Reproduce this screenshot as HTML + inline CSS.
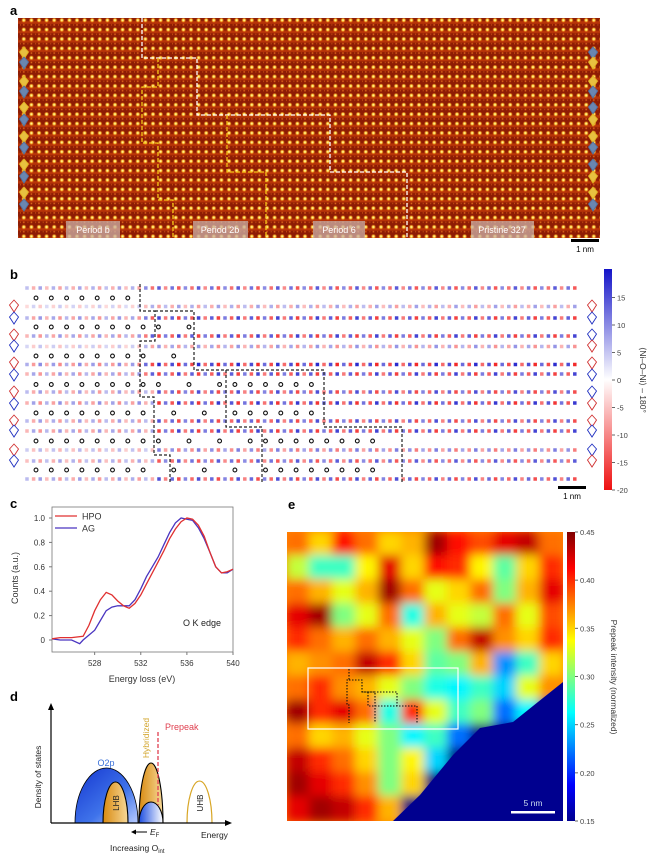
<!DOCTYPE html>
<html><head><meta charset="utf-8"><style>
html,body{margin:0;padding:0;background:#fff;}
svg{display:block;font-family:"Liberation Sans",sans-serif;}
</style></head><body>
<svg id="fig" width="664" height="858" viewBox="0 0 664 858" xmlns="http://www.w3.org/2000/svg">
<defs>
  <radialGradient id="bigdot"><stop offset="0" stop-color="#fffbd0"/><stop offset="0.45" stop-color="#ffd23a"/><stop offset="1" stop-color="#ff7a10" stop-opacity="0"/></radialGradient>
  <radialGradient id="smalldot"><stop offset="0" stop-color="#ff9a30"/><stop offset="1" stop-color="#e04a08" stop-opacity="0"/></radialGradient>
  <pattern id="lattice" x="20" y="18" width="7.6" height="9.4" patternUnits="userSpaceOnUse">
    <rect width="7.6" height="9.4" fill="#8e1c04"/>
    <rect y="3.2" width="7.6" height="2.6" fill="#b83408"/>
    <circle cx="3.8" cy="2.2" r="2.6" fill="url(#bigdot)"/>
    <circle cx="3.8" cy="6.9" r="1.4" fill="url(#smalldot)"/>
    <circle cx="0" cy="6.9" r="1.2" fill="url(#smalldot)"/>
  </pattern>
  <linearGradient id="cbB" x1="0" y1="0" x2="0" y2="1">
    <stop offset="0" stop-color="#1414c8"/><stop offset="0.5" stop-color="#ffffff"/><stop offset="1" stop-color="#ee1010"/>
  </linearGradient>
  <linearGradient id="cbE" x1="0" y1="1" x2="0" y2="0">
    <stop offset="0" stop-color="#00008f"/><stop offset="0.125" stop-color="#0000ff"/><stop offset="0.375" stop-color="#00ffff"/><stop offset="0.625" stop-color="#ffff00"/><stop offset="0.875" stop-color="#ff0000"/><stop offset="1" stop-color="#800000"/>
  </linearGradient>
  <linearGradient id="blueG" x1="0" y1="0" x2="1" y2="1">
    <stop offset="0" stop-color="#1436d0"/><stop offset="0.6" stop-color="#3f73ea"/><stop offset="1" stop-color="#b8ccff"/>
  </linearGradient>
  <linearGradient id="blueG2" x1="0" y1="0" x2="1" y2="0">
    <stop offset="0" stop-color="#1d4ee0"/><stop offset="1" stop-color="#ffffff"/>
  </linearGradient>
  <linearGradient id="orgG" x1="0" y1="0" x2="1" y2="0">
    <stop offset="0" stop-color="#d98a10"/><stop offset="1" stop-color="#f6d898"/>
  </linearGradient>
  <filter id="blurE" x="0" y="0" width="1" height="1"><feGaussianBlur stdDeviation="5"/></filter>
  <clipPath id="clipE"><rect x="287" y="532" width="276" height="289"/></clipPath>
</defs>

<!-- Panel a -->
<text x="10" y="15" font-size="13" font-weight="bold">a</text>
<rect x="18" y="18" width="582" height="220" fill="url(#lattice)"/>
<polyline points="142,18 142,58 197,58 197,115 330,115 330,172 407,172 407,238" fill="none" stroke="#fff" stroke-width="1.3" stroke-dasharray="4,2"/>
<polyline points="158,58 158,87 142,87 142,143 158,143 158,200 173,200 173,238" fill="none" stroke="#f5c518" stroke-width="1.3" stroke-dasharray="4,2"/>
<polyline points="227,115 227,172 266,172 266,238" fill="none" stroke="#f5c518" stroke-width="1.3" stroke-dasharray="4,2"/>
<g font-size="9" fill="#fff">
  <rect x="66" y="221" width="54" height="17" fill="#c9b0a8" opacity="0.75"/>
  <text x="93" y="233" text-anchor="middle">Period b</text>
  <rect x="193" y="221" width="55" height="17" fill="#c9b0a8" opacity="0.75"/>
  <text x="220" y="233" text-anchor="middle">Period 2b</text>
  <rect x="313" y="221" width="52" height="17" fill="#c9b0a8" opacity="0.75"/>
  <text x="339" y="233" text-anchor="middle">Period 6</text>
  <rect x="471" y="221" width="63" height="17" fill="#c9b0a8" opacity="0.75"/>
  <text x="502" y="233" text-anchor="middle">Pristine 327</text>
</g>
<g id="aDiamonds"></g>
<rect x="571" y="239" width="28" height="3" fill="#000"/>
<text x="585" y="252" font-size="8" text-anchor="middle">1 nm</text>

<!-- Panel b -->
<text x="10" y="279" font-size="13" font-weight="bold">b</text>
<g id="bSquares"></g>
<g id="bCircles"></g>
<g id="bDiamonds"></g>
<g fill="none" stroke="#222" stroke-width="1.2" stroke-dasharray="3,2">
<polyline points="140,284 140,311 155,311 155,341 140,341 140,397 154,397 154,455 170,455 170,483"/>
<polyline points="155,311 194,311 194,370 226,370 226,427 262,427 262,483"/>
<polyline points="226,370 324,370 324,427 402,427 402,483"/>
</g>
<rect x="558" y="486" width="28" height="3" fill="#000"/>
<text x="572" y="499" font-size="8" text-anchor="middle">1 nm</text>
<rect x="604" y="269" width="8" height="221" fill="url(#cbB)"/>
<g id="cbBTicks" font-size="7.5" fill="#444"></g>
<text transform="translate(640,380) rotate(90)" font-size="8.5" fill="#333" text-anchor="middle">⟨Ni–O–Ni⟩ – 180°</text>

<!-- Panel c -->
<text x="10" y="508" font-size="13" font-weight="bold">c</text>
<rect x="52" y="507" width="181" height="145" fill="none" stroke="#777" stroke-width="0.8"/>
<g id="cAxes" font-size="8" fill="#333"></g>
<g id="cLines"></g>
<line x1="55" y1="516" x2="77" y2="516" stroke="#e03030" stroke-width="1.3"/>
<text x="82" y="519.5" font-size="9" fill="#333">HPO</text>
<line x1="55" y1="528" x2="77" y2="528" stroke="#4a35c0" stroke-width="1.3"/>
<text x="82" y="531.5" font-size="9" fill="#333">AG</text>
<text x="183" y="626" font-size="9" fill="#222">O K edge</text>
<text x="142" y="682" font-size="9" fill="#333" text-anchor="middle">Energy loss (eV)</text>
<text transform="translate(18,578) rotate(-90)" font-size="9" fill="#333" text-anchor="middle">Counts (a.u.)</text>

<!-- Panel d -->
<text x="10" y="701" font-size="13" font-weight="bold">d</text>
<path d="M75,823 A31.5,55 0 0 1 138,823 Z" fill="url(#blueG)" stroke="#000" stroke-width="0.8"/>
<path d="M103,823 A12.5,41 0 0 1 128,823 Z" fill="url(#orgG)" stroke="#000" stroke-width="1.1"/>
<path d="M139,823 A12,60 0 0 1 163,823 Z" fill="url(#orgG)" stroke="#000" stroke-width="1.1"/>
<path d="M139,823 A12,21 0 0 1 163,823 Z" fill="url(#blueG2)" stroke="#000" stroke-width="1.1"/>
<path d="M187,823 A12.5,42 0 0 1 212,823" fill="none" stroke="#d8a626" stroke-width="1.2"/>
<line x1="158" y1="732" x2="158" y2="805" stroke="#e04050" stroke-width="1.3" stroke-dasharray="4,2"/>
<line x1="51" y1="823" x2="228" y2="823" stroke="#000" stroke-width="1.2"/>
<polygon points="232,823 225,820 225,826" fill="#000"/>
<line x1="51" y1="823" x2="51" y2="708" stroke="#000" stroke-width="1.2"/>
<polygon points="51,703 48,710 54,710" fill="#000"/>
<text transform="translate(41,777) rotate(-90)" font-size="8.5" fill="#222" text-anchor="middle">Density of states</text>
<text x="106" y="766" font-size="9" fill="#3a70d8" text-anchor="middle">O2p</text>
<text transform="translate(119,803) rotate(-90)" font-size="8" fill="#222" text-anchor="middle">LHB</text>
<text transform="translate(203,803) rotate(-90)" font-size="8" fill="#222" text-anchor="middle">UHB</text>
<text transform="translate(149,738) rotate(-90)" font-size="8.5" fill="#d2a42a" text-anchor="middle">Hybridized</text>
<text x="165" y="730" font-size="9" fill="#e04050">Prepeak</text>
<line x1="134" y1="832" x2="147" y2="832" stroke="#000" stroke-width="1"/>
<polygon points="131,832 136,829.5 136,834.5" fill="#000"/>
<text x="150" y="835" font-size="8.5" font-style="italic" fill="#222">E<tspan font-size="6" dy="2" font-style="normal">F</tspan></text>
<text x="201" y="838" font-size="8.5" fill="#222">Energy</text>
<text x="110" y="851" font-size="8.5" fill="#222">Increasing O<tspan font-size="6" dy="2">int</tspan></text>

<!-- Panel e -->
<text x="288" y="509" font-size="13" font-weight="bold">e</text>
<rect x="287" y="532" width="276" height="289" fill="#ff8800"/>
<g clip-path="url(#clipE)"><g id="eCells" filter="url(#blurE)"></g></g>
<polygon points="563,682 543,698 513,722 480,728 453,755 420,795 393,821 563,821" fill="#00008f"/>
<rect x="308" y="668" width="150" height="61" fill="none" stroke="#fff" stroke-width="1.2"/>
<polyline points="349,669 349,680 347,680 347,705 349,705 349,723" fill="none" stroke="#111" stroke-width="1.1" stroke-dasharray="1.5,1.5"/>
<polyline points="349,680 362,680 362,692 375,692 375,723" fill="none" stroke="#111" stroke-width="1.1" stroke-dasharray="1.5,1.5"/>
<polyline points="362,692 397,692 397,706 417,706 417,723" fill="none" stroke="#111" stroke-width="1.1" stroke-dasharray="1.5,1.5"/>
<polyline points="368,692 368,706 397,706" fill="none" stroke="#111" stroke-width="1.1" stroke-dasharray="1.5,1.5"/>
<rect x="511" y="811" width="44" height="2.5" fill="#fff"/>
<text x="533" y="806" font-size="8.5" fill="#cde" text-anchor="middle">5 nm</text>
<rect x="567" y="532" width="8" height="289" fill="url(#cbE)"/>
<g id="cbETicks" font-size="7.5" fill="#444"></g>
<text transform="translate(611,677) rotate(90)" font-size="8.5" fill="#333" text-anchor="middle">Prepeak intensity (normalized)</text>
</svg>

<script>
const NS = "http://www.w3.org/2000/svg";
// ---------- Panel c data ----------
const cEnergyHPO = [524.3,525,526,527,527.5,528,528.5,529,529.5,530,530.5,531,531.5,532,532.5,533,533.5,534,534.5,535,535.5,536,536.5,537,537.5,538,538.5,539,539.5,540];
const cCountsHPO = [0.01,0.02,0.02,0.03,0.12,0.24,0.33,0.39,0.37,0.32,0.28,0.26,0.30,0.37,0.46,0.55,0.64,0.73,0.83,0.91,0.97,1.0,0.99,0.94,0.85,0.72,0.60,0.55,0.56,0.58];
const cEnergyAG = [524.3,525,526,526.7,527,527.5,528,528.5,529,529.5,530,530.5,531,531.5,532,532.5,533,533.5,534,534.5,535,535.5,536,536.5,537,537.5,538,538.5,539,539.5,540];
const cCountsAG = [0.01,0.0,0.0,-0.03,0.0,0.04,0.08,0.16,0.24,0.27,0.28,0.28,0.28,0.33,0.42,0.52,0.60,0.68,0.78,0.88,0.96,1.0,0.99,0.98,0.92,0.83,0.72,0.60,0.55,0.55,0.58];
const cYTicks = [0,0.2,0.4,0.6,0.8,1.0];
const cYTickLabels = ["0","0.2","0.4","0.6","0.8","1.0"];
const cXTicks = [528,532,536,540];
// ---------- Panel b data ----------
const bSquareRowsY = [288,306.5,318,336,346.5,364.5,374,392,403,421,431,450,461,479];
const bRowAmplitude = [14,8,16,16,9,18,16,15,17,15,16,11,14,15];
const bRowPhase = [0,1,0,1,0,0,1,0,1,0,1,0,1,0];
const bCircleRowsY = [298,327,356,384.5,413,441,470];
const bCircleCols = [
  [0,1,2,3,4,5,6],
  [0,1,2,3,4,5,6,7,8,10],
  [0,1,2,3,4,5,6,7,9],
  [0,1,2,3,4,5,6,7,8,10,12,13,14,15,16,17,18],
  [0,1,2,3,4,5,6,7,9,11,13,14,15,16,17,18],
  [0,1,2,3,4,5,6,7,8,10,12,14,15,16,17,18,19,20,21,22],
  [0,1,2,3,4,5,6,7,9,11,13,15,16,17,18,19,20,21,22]
];
const bColorbarTicks = [15,10,5,0,-5,-10,-15,-20];
// ---------- Panel e data (coarse prepeak intensity grid, 12x12) ----------
const eGrid = [
 [.38,.35,.41,.38,.35,.36,.44,.41,.39,.42,.43,.38],
 [.32,.28,.28,.34,.42,.35,.41,.40,.34,.29,.35,.40],
 [.38,.36,.33,.36,.44,.38,.33,.35,.38,.30,.36,.42],
 [.42,.44,.30,.33,.38,.27,.36,.33,.32,.38,.33,.39],
 [.40,.38,.36,.38,.36,.33,.30,.38,.43,.37,.35,.40],
 [.36,.37,.38,.43,.40,.35,.29,.30,.36,.23,.28,.35],
 [.38,.40,.37,.36,.33,.30,.27,.26,.28,.25,.33,.37],
 [.44,.40,.42,.38,.27,.40,.33,.28,.30,.22,.26,.15],
 [.38,.35,.36,.33,.30,.26,.28,.22,.15,.15,.15,.15],
 [.43,.40,.38,.35,.30,.34,.25,.15,.15,.15,.15,.15],
 [.44,.42,.40,.37,.30,.35,.15,.15,.15,.15,.15,.15],
 [.42,.44,.43,.40,.36,.15,.15,.15,.15,.15,.15,.15]
];
const eColorbarTicks = [0.45,0.40,0.35,0.30,0.25,0.20,0.15];
const eColorbarLabels = ["0.45","0.40","0.35","0.30","0.25","0.20","0.15"];

function mk(tag, parent){ const e=document.createElementNS(NS,tag); parent.appendChild(e); return e; }

// ---- Panel c axes
const cx = v => 52 + (v-524.3)*(181/15.7);
const cy = v => 640 - v*122;
const cAx = document.getElementById('cAxes');
cYTicks.forEach((t,i)=>{
  const l = mk('line',cAx);
  
  
  l.setAttribute('x1',52); l.setAttribute('x2',49); l.setAttribute('y1',cy(t)); l.setAttribute('y2',cy(t)); l.setAttribute('stroke','#777');
  const tx = mk('text',cAx);
  
  
  tx.setAttribute('x',45); tx.setAttribute('y',cy(t)+3); tx.setAttribute('text-anchor','end'); tx.textContent=cYTickLabels[i];
});
cXTicks.forEach(t=>{
  const l = mk('line',cAx);
  
  
  l.setAttribute('x1',cx(t)); l.setAttribute('x2',cx(t)); l.setAttribute('y1',652); l.setAttribute('y2',655); l.setAttribute('stroke','#777');
  const tx = mk('text',cAx);
  
  
  tx.setAttribute('x',cx(t)); tx.setAttribute('y',666); tx.setAttribute('text-anchor','middle'); tx.textContent=String(t);
});
const cL = document.getElementById('cLines');
function drawLine(xs,ys,color,name){
  const p = mk('polyline',cL);
  
  
  p.setAttribute('points', xs.map((x,i)=>cx(x).toFixed(1)+','+cy(ys[i]).toFixed(1)).join(' '));
  p.setAttribute('fill','none'); p.setAttribute('stroke',color); p.setAttribute('stroke-width','1.3');
}
drawLine(cEnergyAG,cCountsAG,'#4a35c0','series-ag');
drawLine(cEnergyHPO,cCountsHPO,'#e03030','series-hpo');

// ---- Panel b
function bwr(v){
  const t=Math.max(-1,Math.min(1,v/20));
  if(t>=0){const k=Math.round(255*(1-t*0.92));return `rgb(${k},${k},${Math.round(255-t*55)})`;}
  const k=Math.round(255*(1+t*0.93));return `rgb(${Math.round(255+t*15)},${k},${k})`;
}
const bS = document.getElementById('bSquares');
const nCols = 84;
bSquareRowsY.forEach((y,r)=>{
  for(let c=0;c<nCols;c++){
    const x = 27 + c*6.6;
    const leftRegion = x < 140 + (r>6?15:0);
    const sign = ((c+bRowPhase[r])%2===0)?1:-1;
    const amp = bRowAmplitude[r]*(leftRegion?0.55:1)*(0.7+0.3*((c%3)/2));
    const s = mk('rect',bS);
    
    
    s.setAttribute('x',x-1.75); s.setAttribute('y',y-1.75); s.setAttribute('width',3.5); s.setAttribute('height',3.5);
    s.setAttribute('fill',bwr(sign*amp));
  }
});
const bC = document.getElementById('bCircles');
bCircleRowsY.forEach((y,r)=>{
  bCircleCols[r].forEach(c=>{
    const o = mk('circle',bC);
    
    
    o.setAttribute('cx',36+c*15.3); o.setAttribute('cy',y); o.setAttribute('r',1.9);
    o.setAttribute('fill','none'); o.setAttribute('stroke','#111'); o.setAttribute('stroke-width','1.1');
  });
});
function diamond(parent,x,y,color,fill,name){
  const d = mk('polygon',parent);
  
  
  d.setAttribute('points',`${x},${y-6} ${x+4.5},${y-1} ${x},${y+6} ${x-4.5},${y-1}`);
  d.setAttribute('fill',fill); d.setAttribute('stroke',color); d.setAttribute('stroke-width','0.9');
}
const bD = document.getElementById('bDiamonds');
const bDiamondPairsY = [[306,318],[335,346],[363,375],[392,404],[421,431],[450,461]];
bDiamondPairsY.forEach((p,i)=>{
  diamond(bD,14,p[0],'#d03030','#fff','octahedron-left');
  diamond(bD,14,p[1],'#2030c0','#fff','octahedron-left');
  const a = i%2===0?'#d03030':'#2030c0', b = i%2===0?'#2030c0':'#d03030';
  diamond(bD,592,p[0],a,'#fff','octahedron-right');
  diamond(bD,592,p[1],b,'#fff','octahedron-right');
});
const aD = document.getElementById('aDiamonds');
const aDiamondPairsY = [[53,63],[82,92],[108,120],[137,148],[165,177],[193,205]];
aDiamondPairsY.forEach((p,i)=>{
  diamond(aD,24,p[0],'#e0b020','#e8c040','octahedron-a-left');
  diamond(aD,24,p[1],'#5070a0','#6a86b0','octahedron-a-left');
  const a = i%2===0?['#5070a0','#6a86b0']:['#e0b020','#e8c040'];
  const b = i%2===0?['#e0b020','#e8c040']:['#5070a0','#6a86b0'];
  diamond(aD,593,p[0],a[0],a[1],'octahedron-a-right');
  diamond(aD,593,p[1],b[0],b[1],'octahedron-a-right');
});
const cbB = document.getElementById('cbBTicks');
const bcy = v => 380 - v*5.5;
bColorbarTicks.forEach(t=>{
  const l = mk('line',cbB);
  
  
  l.setAttribute('x1',612); l.setAttribute('x2',615); l.setAttribute('y1',bcy(t)); l.setAttribute('y2',bcy(t)); l.setAttribute('stroke','#666');
  const tx = mk('text',cbB);
  
  
  tx.setAttribute('x',617); tx.setAttribute('y',bcy(t)+3); tx.textContent=String(t);
});

// ---- Panel e
function jet(v){
  const t = Math.max(0,Math.min(1,(v-0.15)/0.30));
  const r = Math.max(0,Math.min(1,1.5-Math.abs(4*t-3)));
  const g = Math.max(0,Math.min(1,1.5-Math.abs(4*t-2)));
  const b = Math.max(0,Math.min(1,1.5-Math.abs(4*t-1)));
  return `rgb(${Math.round(r*255)},${Math.round(g*255)},${Math.round(b*255)})`;
}
const eC = document.getElementById('eCells');
const cw = 276/12, ch = 289/12;
eGrid.forEach((row,r)=>{
  row.forEach((v,c)=>{
    const s = mk('rect',eC);
    
    
    s.setAttribute('x',287+c*cw-1); s.setAttribute('y',532+r*ch-1);
    s.setAttribute('width',cw+2); s.setAttribute('height',ch+2);
    s.setAttribute('fill',jet(v));
  });
});
const cbE = document.getElementById('cbETicks');
const ecy = v => 821 - (v-0.15)/0.30*289;
eColorbarTicks.forEach((t,i)=>{
  const l = mk('line',cbE);
  
  
  l.setAttribute('x1',575); l.setAttribute('x2',578); l.setAttribute('y1',ecy(t)); l.setAttribute('y2',ecy(t)); l.setAttribute('stroke','#666');
  const tx = mk('text',cbE);
  
  
  tx.setAttribute('x',580); tx.setAttribute('y',ecy(t)+3); tx.textContent=eColorbarLabels[i];
});
</script>
</body></html>
